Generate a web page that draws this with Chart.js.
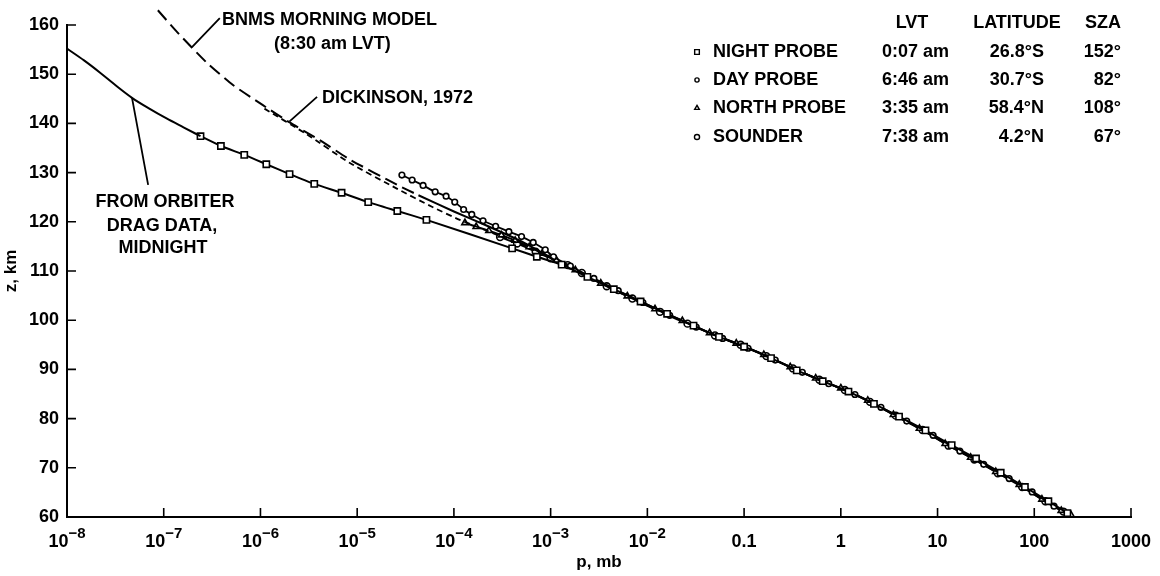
<!DOCTYPE html>
<html>
<head>
<meta charset="utf-8">
<script src="https://cdn.jsdelivr.net/npm/chart.js@4.4.1/dist/chart.umd.min.js"></script>
<style>
  html, body { margin: 0; padding: 0; background: #fff; }
</style>
</head>
<body>
<canvas id="chart" width="1160" height="576"></canvas>
<script>
// ── Axes ─────────────────────────────────────
const xTickVals   = [1e-8, 1e-7, 1e-6, 1e-5, 1e-4, 1e-3, 1e-2, 0.1, 1, 10, 100, 1000];
const xTickLabels = ['10^-8', '10^-7', '10^-6', '10^-5', '10^-4', '10^-3', '10^-2', '0.1', '1', '10', '100', '1000'];
const yTickVals   = [60, 70, 80, 90, 100, 110, 120, 130, 140, 150, 160];

// ── Profiles: pressure (mb) / altitude (km) ──
const orbiterP = [1e-8, 1.5e-8, 2.2e-8, 3.2e-8, 4.7e-8, 7.1e-8, 1.07e-7, 1.6e-7, 2.4e-7];
const orbiterZ = [155.2, 152.8, 150.3, 147.7, 145.2, 143.0, 141.0, 139.2, 137.4];

const nightP = [2.4e-7, 3.9e-7, 6.8e-7, 1.15e-6, 2.0e-6, 3.6e-6, 6.9e-6, 1.3e-5, 2.6e-5, 5.2e-5, 4.0e-4, 7.2e-4,
                1.3e-3, 2.4e-3, 4.5e-3, 8.5e-3, 1.6e-2, 3.0e-2, 5.5e-2, 0.1, 0.19, 0.35, 0.65, 1.2, 2.2, 4.0,
                7.5, 14, 25, 45, 80, 140, 220];
const nightZ = [137.4, 135.4, 133.6, 131.7, 129.7, 127.7, 125.9, 124.0, 122.2, 120.4, 114.6, 112.9,
                111.3, 108.8, 106.3, 103.8, 101.3, 98.9, 96.6, 94.6, 92.3, 89.8, 87.6, 85.5, 83.0, 80.4,
                77.6, 74.6, 71.9, 69.0, 66.1, 63.2, 60.8];

const dayP = [2.9e-5, 3.7e-5, 4.8e-5, 6.4e-5, 8.3e-5, 1.02e-4, 1.26e-4, 1.53e-4, 2.0e-4, 2.7e-4, 3.7e-4, 5.0e-4,
              6.6e-4, 8.8e-4, 1.07e-3, 1.6e-3, 2.8e-3, 5.0e-3, 9.0e-3, 1.7e-2, 3.2e-2, 6.0e-2, 0.11, 0.21,
              0.4, 0.75, 1.4, 2.6, 4.8, 9.0, 17, 30, 55, 95, 160];
const dayZ = [129.5, 128.5, 127.4, 126.1, 125.2, 124.0, 122.5, 121.5, 120.2, 119.1, 118.0, 117.0,
              115.8, 114.3, 112.9, 111.0, 108.5, 106.0, 103.6, 101.0, 98.6, 96.3, 94.3, 91.9,
              89.4, 87.1, 84.9, 82.3, 79.5, 76.6, 73.4, 70.7, 67.8, 65.1, 62.2];

const northP = [1.3e-4, 1.7e-4, 2.3e-4, 3.1e-4, 4.3e-4, 6.0e-4, 8.2e-4, 1.15e-3, 1.8e-3, 3.3e-3, 6.2e-3, 1.2e-2,
                2.3e-2, 4.4e-2, 8.3e-2, 0.16, 0.3, 0.55, 1.0, 1.9, 3.5, 6.5, 12, 22, 40, 70, 120, 190, 240];
const northZ = [119.8, 119.0, 118.2, 117.3, 116.2, 114.9, 113.6, 112.2, 110.2, 107.5, 104.9, 102.3,
                99.9, 97.4, 95.3, 93.0, 90.5, 88.2, 86.2, 83.7, 80.8, 78.0, 74.9, 72.1, 69.2, 66.6, 63.6, 61.3, 60.4];

const sounderP = [3.0e-4, 4.5e-4, 7.0e-4, 1.0e-3, 1.5e-3, 2.1e-3, 3.8e-3, 7.0e-3, 1.35e-2, 2.6e-2, 5.0e-2, 9.2e-2,
                  0.17, 0.32, 0.6, 1.1, 2.0, 3.7, 7.0, 13, 24, 42, 75, 130, 200];
const sounderZ = [116.9, 115.6, 113.9, 112.6, 111.2, 109.6, 106.9, 104.4, 101.7, 99.3, 96.9, 95.0,
                  92.7, 90.2, 87.9, 85.8, 83.4, 80.6, 77.7, 74.5, 71.7, 68.9, 66.1, 63.2, 61.1];

// models
const bnmsP = [8.7e-8, 1.37e-7, 2.8e-7, 5.2e-7, 1.06e-6, 2.0e-6, 4.1e-6, 8.5e-6, 2.6e-5, 4.3e-5, 1.0e-4, 2.2e-4, 5.0e-4, 1.07e-3];
const bnmsZ = [163.0, 158.6, 152.3, 147.8, 143.7, 140.2, 136.6, 132.6, 127.5, 125.4, 122.1, 119.2, 116.0, 112.4];
const bnmsSolidFrom = 4.3e-5;

const dickP = [1.1e-6, 3.0e-6, 8.5e-6, 2.6e-5, 6.0e-5, 1.15e-4, 2.6e-4, 5.5e-4, 1.1e-3];
const dickZ = [143.0, 137.8, 131.9, 126.7, 123.0, 120.4, 117.6, 115.0, 112.2];

// ── Legend table ─────────────────────────────
const probeNames = ['NIGHT PROBE', 'DAY PROBE', 'NORTH PROBE', 'SOUNDER'];
const probeLVT   = ['0:07 am', '6:46 am', '3:35 am', '7:38 am'];
const probeLat   = ['26.8°S', '30.7°S', '58.4°N', '4.2°N'];
const probeSZA   = ['152°', '82°', '108°', '67°'];

const FONT = '"Liberation Sans", Arial, Helvetica, sans-serif';
Chart.defaults.font.family = FONT;
Chart.defaults.color = '#000';

const pts = (ps, zs) => ps.map((p, i) => ({ x: p, y: zs[i] }));

function probe(label, ps, zs, style, r, width) {
    return {
        label, data: pts(ps, zs), showLine: true, tension: 0.15,
        borderColor: '#000', borderWidth: width,
        pointStyle: style, pointRadius: r, pointBackgroundColor: '#fff',
        pointBorderColor: '#000', pointBorderWidth: 1.6
    };
}

const markers = ['rect', 'circle', 'triangle', 'circle'];
const markerR = [4.4, 2.8, 3.6, 3.4];

const leaders = [
    [[1.96e-7, 155.5], [3.8e-7, 161.4]],
    [[2.0e-6, 140.4], [3.85e-6, 145.4]],
    [[4.7e-8, 145.2], [6.9e-8, 127.5]]
];

function text(ctx, s, x, y, align, size) {
    ctx.font = `bold ${size || 18}px ${FONT}`;
    ctx.textAlign = align || 'left';
    ctx.textBaseline = 'middle';
    ctx.fillText(s, x, y);
}

function drawTickLabel(ctx, label, cx, cy) {
    const parts = label.split('^');
    if (parts.length === 1) { text(ctx, label, cx, cy, 'center', 18); return; }
    const exp = parts[1].replace('-', '\u2212');
    ctx.font = `bold 18px ${FONT}`;
    const bw = ctx.measureText(parts[0]).width;
    ctx.font = `bold 15px ${FONT}`;
    const ew = ctx.measureText(exp).width;
    const left = cx - (bw + ew) / 2;
    text(ctx, parts[0], left, cy, 'left', 18);
    text(ctx, exp, left + bw, cy - 8, 'left', 15);
}

const decor = {
    id: 'decor',
    afterDraw(chart) {
        const { ctx, chartArea: a, scales: { x, y } } = chart;
        ctx.save();
        ctx.strokeStyle = '#000';
        ctx.fillStyle = '#000';
        ctx.lineWidth = 1.6;

        // inward tick marks
        ctx.beginPath();
        xTickVals.forEach(v => {
            const px = x.getPixelForValue(v);
            ctx.moveTo(px, a.bottom); ctx.lineTo(px, a.bottom - 9);
        });
        yTickVals.forEach(v => {
            const py = y.getPixelForValue(v);
            ctx.moveTo(a.left, py); ctx.lineTo(a.left + 9, py);
        });
        ctx.stroke();

        xTickVals.forEach((v, i) => drawTickLabel(ctx, xTickLabels[i], x.getPixelForValue(v), 542));

        // pointer lines to the annotations
        ctx.lineWidth = 1.8;
        ctx.beginPath();
        leaders.forEach(([p0, p1]) => {
            ctx.moveTo(x.getPixelForValue(p0[0]), y.getPixelForValue(p0[1]));
            ctx.lineTo(x.getPixelForValue(p1[0]), y.getPixelForValue(p1[1]));
        });
        ctx.stroke();

        text(ctx, 'BNMS MORNING MODEL', 222, 20);
        text(ctx, '(8:30 am LVT)', 274, 44);
        text(ctx, 'DICKINSON, 1972', 322, 98);
        text(ctx, 'FROM ORBITER', 165, 202, 'center');
        text(ctx, 'DRAG DATA,', 162, 226, 'center');
        text(ctx, 'MIDNIGHT', 163, 248, 'center');

        // legend table
        text(ctx, 'LVT', 912, 23, 'center');
        text(ctx, 'LATITUDE', 1017, 23, 'center');
        text(ctx, 'SZA', 1103, 23, 'center');
        const rows = [52, 80, 108, 137];
        probeNames.forEach((name, i) => {
            const ry = rows[i];
            ctx.lineWidth = 1.4;
            ctx.fillStyle = '#fff';
            Chart.helpers.drawPoint(ctx, { pointStyle: markers[i], radius: markerR[i] * 0.75, rotation: 0, borderWidth: 1.4 }, 697, ry);
            ctx.fillStyle = '#000';
            text(ctx, name, 713, ry);
            text(ctx, probeLVT[i], 949, ry, 'right');
            text(ctx, probeLat[i], 1044, ry, 'right');
            text(ctx, probeSZA[i], 1121, ry, 'right');
        });
        ctx.restore();
    }
};

new Chart(document.getElementById('chart'), {
    type: 'scatter',
    data: {
        datasets: [
            { label: 'orbiter', data: pts(orbiterP, orbiterZ), showLine: true, cubicInterpolationMode: 'monotone',
              borderColor: '#000', borderWidth: 2, pointRadius: 0 },
            { label: 'BNMS', data: pts(bnmsP, bnmsZ), showLine: true, tension: 0.2, clip: false,
              borderColor: '#000', borderWidth: 2, pointRadius: 0, borderDash: [13, 6],
              segment: { borderDash: c => c.p0.parsed.x < bnmsSolidFrom ? [13, 6] : [] } },
            { label: 'Dickinson', data: pts(dickP, dickZ), showLine: true, tension: 0.2,
              borderColor: '#000', borderWidth: 1.8, pointRadius: 0, borderDash: [6, 4] },
            probe('night', nightP, nightZ, markers[0], markerR[0], 2),
            probe('day', dayP, dayZ, markers[1], markerR[1], 1.8),
            probe('north', northP, northZ, markers[2], markerR[2], 2),
            probe('sounder', sounderP, sounderZ, markers[3], markerR[3], 2)
        ]
    },
    options: {
        responsive: false,
        animation: false,
        layout: { padding: { top: 25, right: 29, left: 0, bottom: 0 } },
        plugins: { legend: { display: false }, tooltip: { enabled: false } },
        elements: { line: { borderCapStyle: 'butt' } },
        scales: {
            x: {
                type: 'logarithmic', min: 1e-8, max: 1000, position: 'bottom',
                grid: { display: false, drawTicks: false },
                border: { display: true, color: '#000', width: 2 },
                ticks: { display: false },
                title: { display: true, text: 'p, mb', font: { size: 17, weight: 'bold' }, padding: { top: 0, bottom: 3 } },
                afterFit: s => { s.height = 59; }
            },
            y: {
                min: 60, max: 160,
                grid: { display: false, drawTicks: false },
                border: { display: true, color: '#000', width: 2 },
                ticks: { stepSize: 10, padding: 8, font: { size: 18, weight: 'bold' } },
                title: { display: true, text: 'z, km', font: { size: 17, weight: 'bold' }, padding: { top: 1, bottom: 0 } },
                afterFit: s => { s.width = 67; }
            }
        }
    },
    plugins: [decor]
});
</script>
</body>
</html>
